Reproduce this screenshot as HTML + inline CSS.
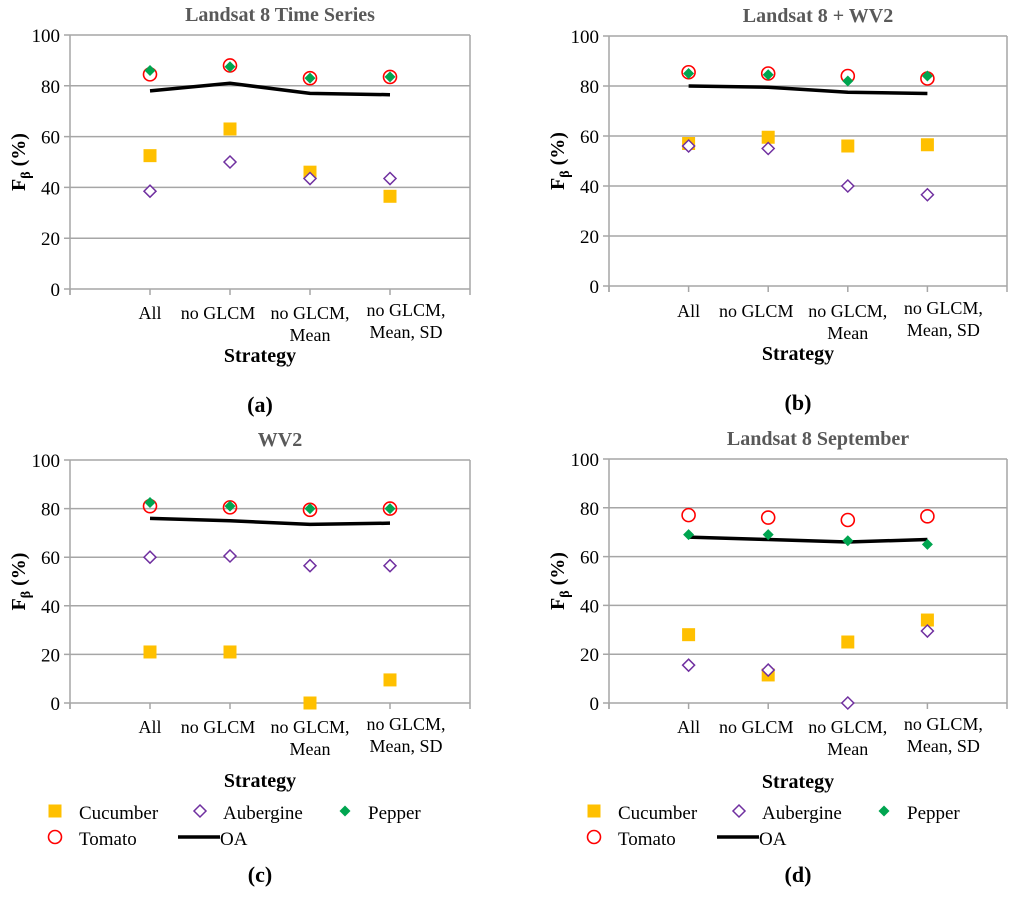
<!DOCTYPE html>
<html><head><meta charset="utf-8">
<style>
html,body{margin:0;padding:0;background:#fff;}
svg{display:block;}
svg text{font-family:"Liberation Serif","DejaVu Serif",serif;}
</style></head>
<body>
<svg id="fig" width="1024" height="903" viewBox="0 0 1024 903" xmlns="http://www.w3.org/2000/svg" font-family="Liberation Serif, serif"></svg>
<script>
const categories = ["All","no GLCM","no GLCM,|Mean","no GLCM,|Mean, SD"];
const yTicks = [0,20,40,60,80,100];
const titles = ["Landsat 8 Time Series","Landsat 8 + WV2","WV2","Landsat 8 September"];
const panelLetters = ["(a)","(b)","(c)","(d)"];
const cucumberA = [52.5,63,46,36.5];
const aubergineA = [38.5,50,43.5,43.5];
const pepperA = [86,87.5,83,83.5];
const tomatoA = [84.5,88,83,83.5];
const oaA = [78,81,77,76.5];
const cucumberB = [57,59.5,56,56.5];
const aubergineB = [56,55,40,36.5];
const pepperB = [85,84.5,82,84];
const tomatoB = [85.5,85,84,83];
const oaB = [80,79.5,77.5,77];
const cucumberC = [21,21,0,9.5];
const aubergineC = [60,60.5,56.5,56.5];
const pepperC = [82.5,81,80,80];
const tomatoC = [81,80.5,79.5,80];
const oaC = [76,75,73.5,74];
const cucumberD = [28,11.5,25,34];
const aubergineD = [15.5,13.5,0,29.5];
const pepperD = [69,69,66.5,65];
const tomatoD = [77,76,75,76.5];
const oaD = [68,67,66,67];

const NS="http://www.w3.org/2000/svg";
const svg=document.getElementById('fig');
function mk(tag,attrs,parent,text){const e=document.createElementNS(NS,tag);for(const k in attrs)e.setAttribute(k,attrs[k]);if(tag==='text')e.setAttribute('font-family','Liberation Serif, serif');if(text!==undefined)e.textContent=text;(parent||svg).appendChild(e);return e;}

const panels=[
 {x0:70,x1:470,yTop:35,yBot:289,data:[cucumberA,aubergineA,pepperA,tomatoA,oaA],labelY:319,stratY:362,letterY:412,legend:null},
 {x0:609,x1:1007,yTop:36,yBot:286,data:[cucumberB,aubergineB,pepperB,tomatoB,oaB],labelY:317,stratY:360,letterY:410,legend:null},
 {x0:70,x1:470,yTop:460,yBot:703,data:[cucumberC,aubergineC,pepperC,tomatoC,oaC],labelY:733,stratY:787,letterY:882,legend:0},
 {x0:609,x1:1007,yTop:459,yBot:703,data:[cucumberD,aubergineD,pepperD,tomatoD,oaD],labelY:733,stratY:788,letterY:882,legend:539}
];
const labelShift=[0,-12,0,16];

function drawMarker(g,kind,x,y){
 let e;
 if(kind===0){e=mk('rect',{x:x-6.5,y:y-6.5,width:13,height:13,fill:'#ffc000'},g);}
 else if(kind===1){e=mk('path',{d:`M${x} ${y-6}L${x+6} ${y}L${x} ${y+6}L${x-6} ${y}Z`,fill:'#fff',stroke:'#7030a0','stroke-width':1.5},g);}
 else if(kind===2){e=mk('path',{d:`M${x} ${y-5.5}L${x+5.5} ${y}L${x} ${y+5.5}L${x-5.5} ${y}Z`,fill:'#00a550'},g);}
 else {e=mk('circle',{cx:x,cy:y,r:6.5,fill:'none',stroke:'#ff0000','stroke-width':1.6},g);}
 
}

panels.forEach((p,pi)=>{
 const g=mk('g',{});
 
 
 const band=(p.x1-p.x0)/5;
 const xs=i=>p.x0+band*(i+1);
 const ys=v=>p.yBot-(v/100)*(p.yBot-p.yTop);
 yTicks.forEach(t=>{
  const l=mk('line',{x1:p.x0-6,x2:p.x1,y1:ys(t),y2:ys(t),stroke:'#a6a6a6','stroke-width':1.5},g);
  
  
  const tl=mk('text',{x:p.x0-10,y:ys(t)+7,'text-anchor':'end','font-size':19,fill:'#000'},g,t);
  
  
 });
 mk('line',{x1:p.x0,x2:p.x0,y1:p.yTop,y2:p.yBot+6,stroke:'#a6a6a6','stroke-width':1.5},g);
 mk('line',{x1:p.x1,x2:p.x1,y1:p.yTop,y2:p.yBot+6,stroke:'#a6a6a6','stroke-width':1.5},g);
 for(let i=-1;i<4;i++){mk('line',{x1:xs(i),x2:xs(i),y1:p.yBot,y2:p.yBot+6,stroke:'#a6a6a6','stroke-width':1.5},g);}
 categories.forEach((c,i)=>{
  const lines=c.split('|');
  lines.forEach((ln,k)=>{
   const t=mk('text',{x:xs(i)+labelShift[i],y:p.labelY+k*22-(i===3?3:0),'text-anchor':'middle','font-size':18},g,ln);
   
   
  });
 });
 const cx=(p.x0+p.x1)/2;
 const tt=mk('text',{x:cx+10,y:p.yTop-14,'text-anchor':'middle','font-size':20,'font-weight':'bold',fill:'#595959'},g,titles[pi]);
 
 
 const st=mk('text',{x:cx-10,y:p.stratY,'text-anchor':'middle','font-size':20,'font-weight':'bold'},g,'Strategy');
 
 
 const ymid=(p.yTop+p.yBot)/2;
 const yt=mk('text',{transform:`translate(${p.x0-45},${ymid}) rotate(-90)`,'text-anchor':'middle','font-size':20,'font-weight':'bold'},g);
 
 
 mk('tspan',{},yt,'F');
 mk('tspan',{'font-size':14,dy:5},yt,'β');
 mk('tspan',{dy:-5},yt,' (%)');
 const lt=mk('text',{x:cx-10,y:p.letterY,'text-anchor':'middle','font-size':22,'font-weight':'bold'},g,panelLetters[pi]);
 
 
 const oa=p.data[4];
 const pl=mk('polyline',{points:oa.map((v,i)=>xs(i)+','+ys(v)).join(' '),fill:'none',stroke:'#000','stroke-width':3.5},g);
 
 
 [0,1,3,2].forEach(order=>{
  p.data[order].forEach((v,i)=>drawMarker(g,order,xs(i),ys(v)));
 });
 if(p.legend!==null){
  const o=p.legend;
  const lg=mk('g',{},g);
  
  
  const items=[[0,55,79,812,'Cucumber'],[1,200,223,812,'Aubergine'],[2,345,368,812,'Pepper'],[3,55,79,838,'Tomato']];
  items.forEach(it=>{
   drawMarker(lg,it[0],it[1]+o,it[3]-1);
   const t=mk('text',{x:it[2]+o,y:it[3]+7,'font-size':19},lg,it[4]);
   
   
  });
  mk('line',{x1:178+o,x2:220+o,y1:837,y2:837,stroke:'#000','stroke-width':3.5},lg);
  const t=mk('text',{x:220+o,y:845,'font-size':19},lg,'OA');
  
  
 }
});
</script>
</body></html>
